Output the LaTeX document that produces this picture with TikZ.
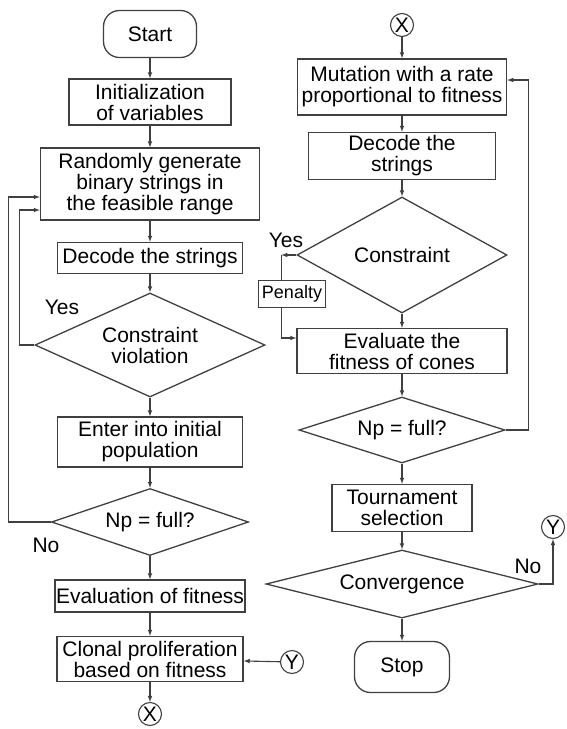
\documentclass[tikz,border=0pt]{standalone}
\usepackage{fontspec}
\setmainfont{Liberation Sans}
\usetikzlibrary{arrows,shapes.geometric,calc}

\begin{document}
\begin{tikzpicture}[x=1pt,y=-1pt,
  every node/.style={font=\fontsize{21}{21}\selectfont},
  box/.style={draw=black!75,line width=1.3pt,align=center,inner sep=1pt},
  term/.style={box,rounded corners=16pt},
  dec/.style={draw=black!75,line width=1.3pt,diamond,align=center,inner sep=0pt},
  conn/.style={draw=black!75,line width=1.1pt,circle,inner sep=0pt,minimum size=23pt},
  arr/.style={-latex,draw=black!75,line width=1.1pt},
  line/.style={draw=black!75,line width=1.1pt}]
\useasboundingbox (0,0) rectangle (566,729);

% left column
\node[term,minimum width=93pt,minimum height=47pt] (start) at (150,34) {Start};
\node[box,minimum width=162pt,minimum height=46pt] (init) at (150,102) {Initialization\\of variables};
\node[box,minimum width=219pt,minimum height=72pt] (rand) at (150,184) {Randomly generate\\binary strings in\\the feasible range};
\node[box,minimum width=185pt,minimum height=31pt] (dec1) at (150,258) {Decode the strings};
\node[dec,aspect=2.21,minimum width=230pt,minimum height=104pt] (viol) at (150,345) {Constraint\\violation};
\node[box,minimum width=185pt,minimum height=50pt] (enter) at (150,442) {Enter into initial\\population};
\node[dec,aspect=2.94,minimum width=197pt,minimum height=67pt] (full1) at (150,522) {Np = full?};
\node[box,minimum width=186pt,minimum height=32pt] (evalfit) at (150,596) {Evaluation of fitness};
\node[box,minimum width=186pt,minimum height=45pt] (clonal) at (150,659) {Clonal proliferation\\based on fitness};
\node[conn] (xa) at (150,714) {X};
\node[conn] (ya) at (292,662) {Y};
\node (yes1) at (62,307) {Yes};
\node (no1) at (46,545) {No};

% right column
\node[conn] (xb) at (402,25) {X};
\node[box,minimum width=209pt,minimum height=56pt] (mut) at (402,87) {Mutation with a rate\\proportional to fitness};
\node[box,minimum width=187pt,minimum height=47pt] (dec2) at (402,156) {Decode the\\strings};
\node[dec,aspect=1.81,minimum width=210pt,minimum height=116pt] (cons) at (402,255) {Constraint};
\node[box,font=\fontsize{18}{19}\selectfont,minimum width=67pt,minimum height=27pt] (pen) at (292,294) {Penalty};
\node[box,minimum width=210pt,minimum height=45pt] (evalcone) at (402,351) {Evaluate the\\fitness of cones};
\node[dec,aspect=3.12,minimum width=206pt,minimum height=66pt] (full2) at (402,430) {Np = full?};
\node[box,minimum width=140pt,minimum height=47pt] (tour) at (402,508) {Tournament\\selection};
\node[dec,aspect=4,minimum width=272pt,minimum height=68pt] (conv) at (402,584) {Convergence};
\node[term,minimum width=95pt,minimum height=51pt] (stop) at (402,667) {Stop};
\node[conn] (yb) at (553,527) {Y};
\node (yes2) at (286,240) {Yes};
\node (no2) at (528,566) {No};

% connectors, left
\draw[arr] (start) -- (init);
\draw[arr] (init) -- (rand);
\draw[arr] (rand) -- (dec1);
\draw[arr] (dec1) -- (viol);
\draw[arr] (viol) -- (enter);
\draw[arr] (enter) -- (full1);
\draw[arr] (full1) -- (evalfit);
\draw[arr] (evalfit) -- (clonal);
\draw[arr] (clonal) -- (xa);
\draw[arr] (ya) -- (clonal);
\draw[arr] (viol.west) -- ++(-15,0) |- ([yshift=-26pt]rand.west);
\draw[arr] (full1.west) -- ++(-42,0) |- ([yshift=-13pt]rand.west);

% connectors, right
\draw[arr] (xb) -- (mut);
\draw[arr] (mut) -- (dec2);
\draw[arr] (dec2) -- (cons);
\draw[arr] (cons) -- (evalcone);
\draw[arr] (evalcone) -- (full2);
\draw[arr] (full2) -- (tour);
\draw[arr] (tour) -- (conv);
\draw[arr] (conv) -- (stop);
\draw[arr] (full2.east) -- ++(23,0) |- ([yshift=7pt]mut.east);
\draw[arr] (cons.west) -- ++(-15,0) coordinate (yc);
\draw[line] (yc) -- (yc |- pen.north);
\draw[arr] (yc |- pen.south) |- ([yshift=13pt]evalcone.west);
\draw[arr] (conv.east) -| (yb.south);
\end{tikzpicture}
\end{document}
